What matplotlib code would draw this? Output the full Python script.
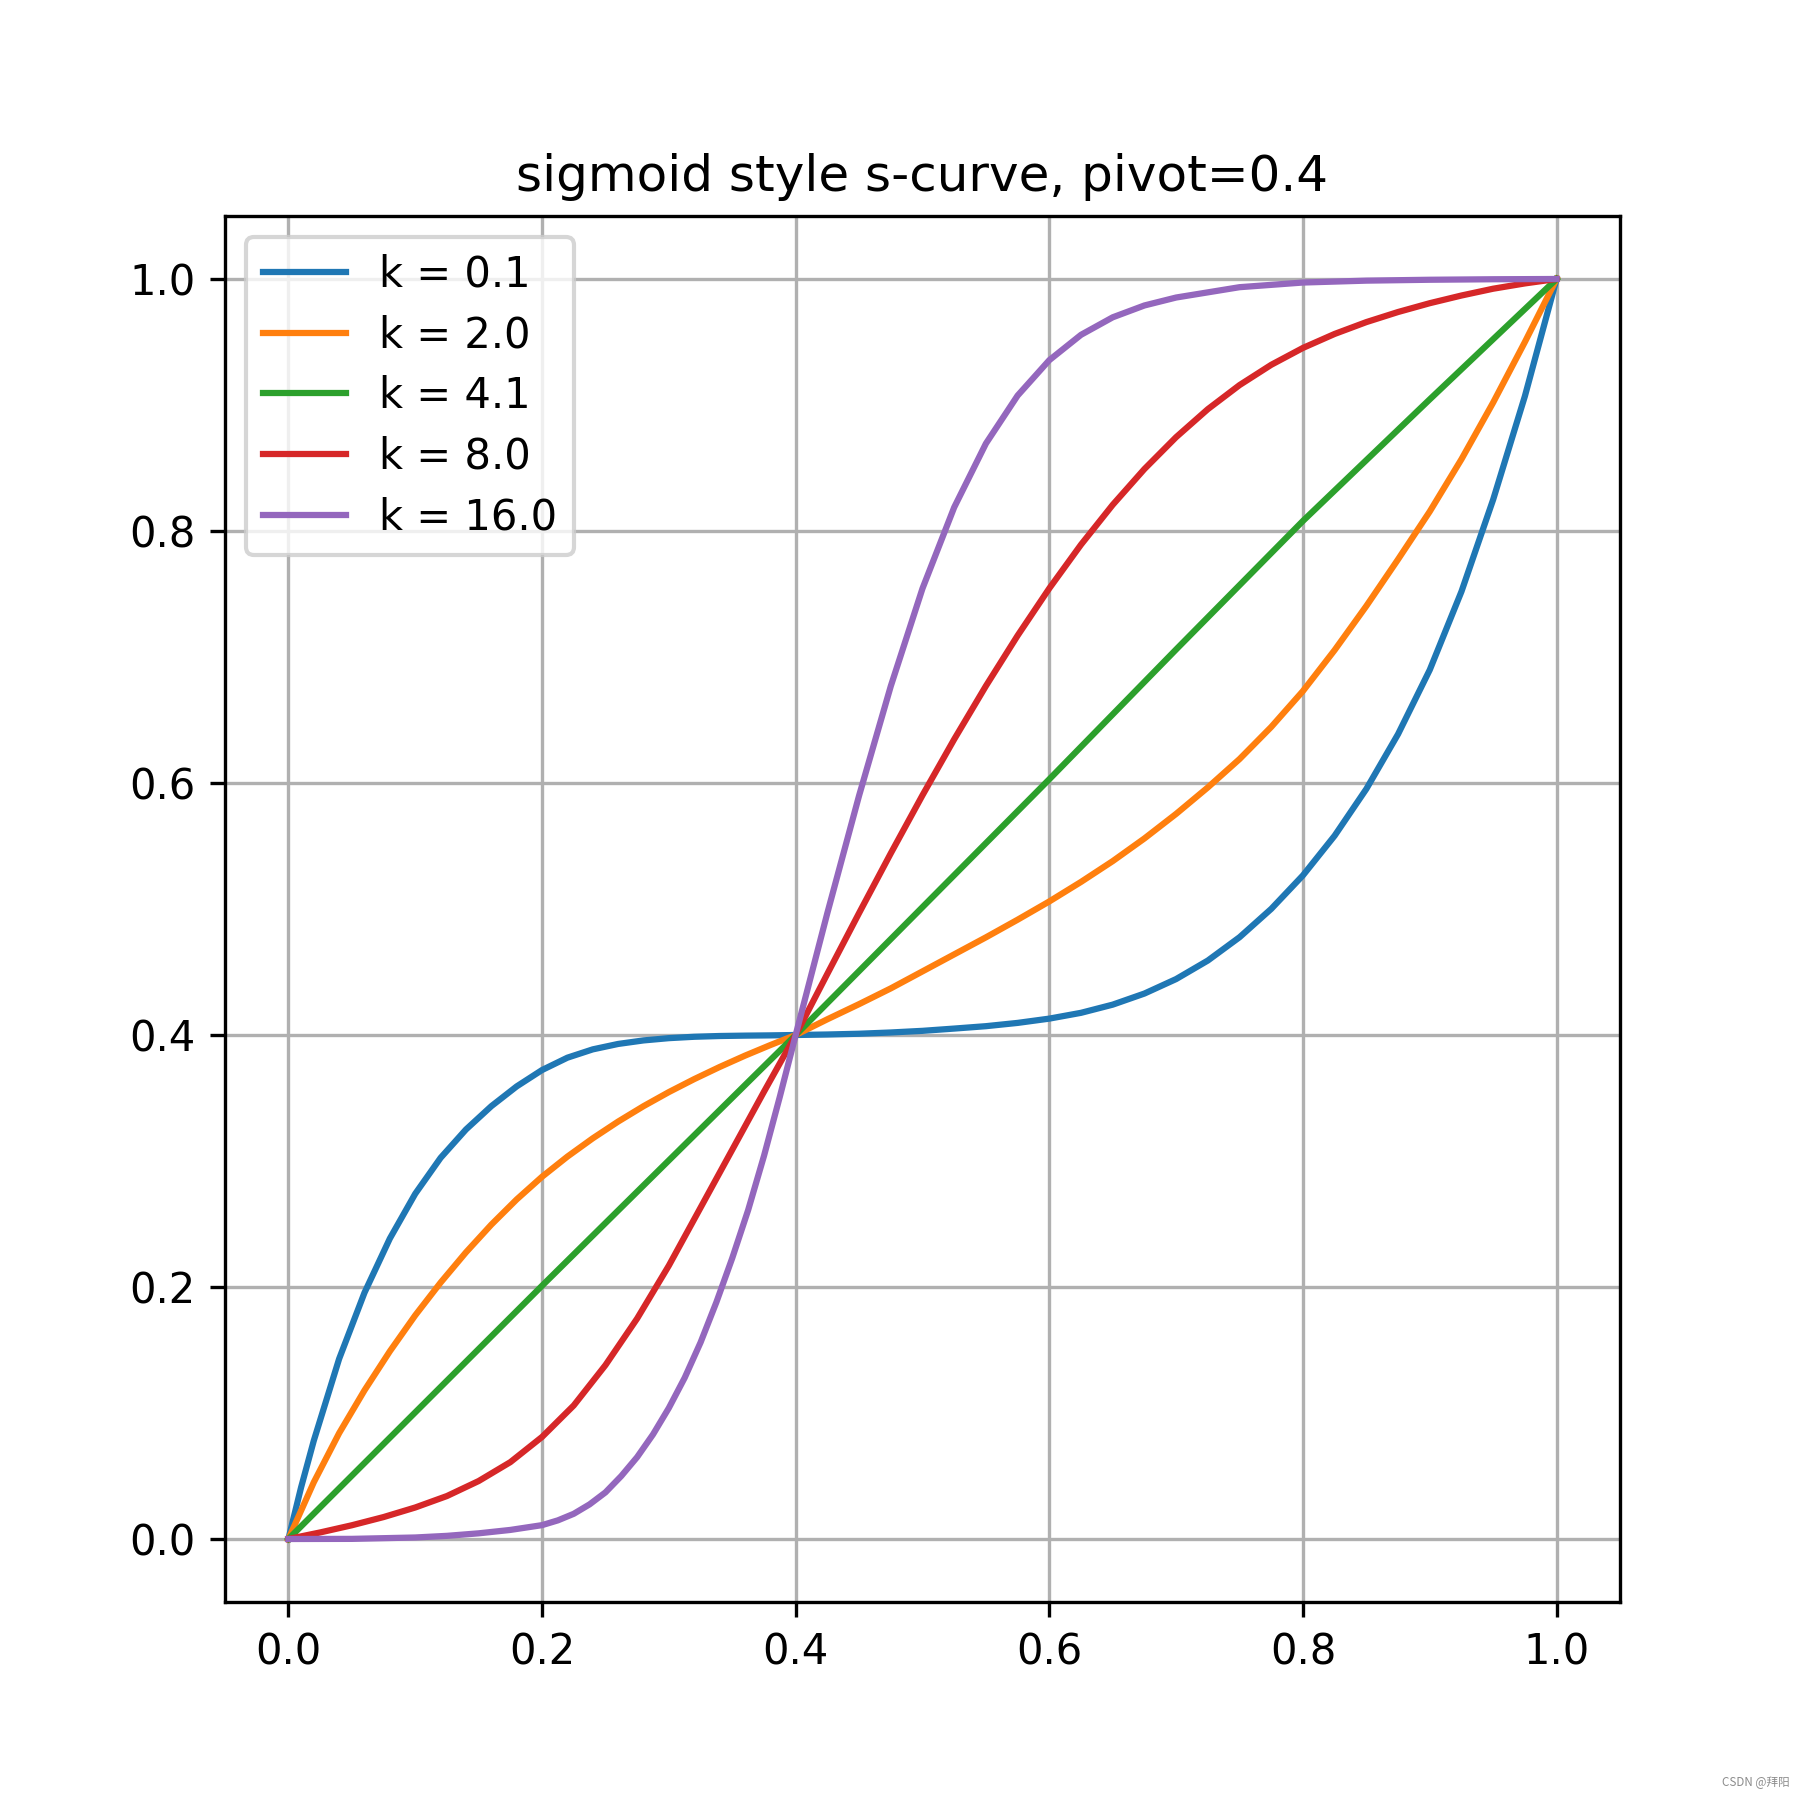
import matplotlib
matplotlib.use("Agg")
import matplotlib.pyplot as plt

# values
pivot = 0.4

x_k01 = [0, 0.01, 0.02, 0.04, 0.06, 0.08, 0.10, 0.12, 0.14, 0.16, 0.18, 0.20, 0.22, 0.24, 0.26, 0.28,
         0.30, 0.32, 0.34, 0.36, 0.38, 0.40, 0.425, 0.45, 0.475, 0.50, 0.525, 0.55, 0.575, 0.60,
         0.625, 0.65, 0.675, 0.70, 0.725, 0.75, 0.775, 0.80, 0.825, 0.85, 0.875, 0.90, 0.925,
         0.95, 0.975, 1.0]
y_k01 = [0, 0.041, 0.078, 0.143, 0.1955, 0.2385, 0.274, 0.3025, 0.325, 0.3435, 0.3592, 0.3722, 0.382,
         0.3886, 0.3929, 0.3957, 0.3975, 0.3986, 0.3992, 0.3995, 0.3997, 0.4, 0.4004, 0.401, 0.402,
         0.4033, 0.4051, 0.407, 0.4096, 0.413, 0.4176, 0.4241, 0.4329, 0.4444, 0.4591, 0.4776, 0.5001,
         0.5267, 0.5582, 0.5953, 0.6388, 0.6898, 0.752, 0.825, 0.907, 1.0]

x_k2 = [0, 0.02, 0.04, 0.06, 0.08, 0.10, 0.12, 0.14, 0.16, 0.18, 0.20, 0.22, 0.24, 0.26, 0.28, 0.30,
        0.32, 0.34, 0.36, 0.38, 0.40, 0.425, 0.45, 0.475, 0.50, 0.525, 0.55, 0.575, 0.60, 0.625,
        0.65, 0.675, 0.70, 0.725, 0.75, 0.775, 0.80, 0.825, 0.85, 0.875, 0.90, 0.925, 0.95, 0.975, 1.0]
y_k2 = [0, 0.045, 0.084, 0.118, 0.149, 0.1775, 0.2035, 0.2275, 0.2495, 0.2695, 0.2875, 0.3035, 0.318,
        0.3313, 0.3435, 0.3547, 0.365, 0.3746, 0.3836, 0.392, 0.4, 0.4125, 0.4245, 0.437, 0.4505,
        0.464, 0.4775, 0.4915, 0.506, 0.5215, 0.538, 0.556, 0.5755, 0.5965, 0.619, 0.6445, 0.673,
        0.7055, 0.7405, 0.7775, 0.8155, 0.857, 0.902, 0.950, 1.0]

x_k41 = [0, 0.1, 0.2, 0.3, 0.4, 0.5, 0.6, 0.7, 0.8, 0.9, 1.0]
y_k41 = [0, 0.1005, 0.201, 0.3005, 0.4, 0.5015, 0.603, 0.706, 0.808, 0.9045, 1.0]

x_k8 = [0, 0.025, 0.05, 0.075, 0.10, 0.125, 0.15, 0.175, 0.20, 0.225, 0.25, 0.275, 0.30, 0.325, 0.35,
        0.375, 0.40, 0.425, 0.45, 0.475, 0.50, 0.525, 0.55, 0.575, 0.60, 0.625, 0.65, 0.675, 0.70,
        0.725, 0.75, 0.775, 0.80, 0.825, 0.85, 0.875, 0.90, 0.925, 0.95, 0.975, 1.0]
y_k8 = [0, 0.0052, 0.0109, 0.0174, 0.025, 0.0341, 0.046, 0.061, 0.081, 0.106, 0.138, 0.175, 0.217,
        0.263, 0.309, 0.355, 0.4, 0.4486, 0.4968, 0.5442, 0.5903, 0.6347, 0.677, 0.717, 0.7545, 0.7892,
        0.8208, 0.8492, 0.8745, 0.8967, 0.9158, 0.9319, 0.9453, 0.9564, 0.9658, 0.9738, 0.9808, 0.9869,
        0.9923, 0.9965, 1.0]

x_k16 = [0, 0.05, 0.10, 0.125, 0.15, 0.175, 0.20, 0.2125, 0.225, 0.2375, 0.25, 0.2625, 0.275, 0.2875,
         0.30, 0.3125, 0.325, 0.3375, 0.35, 0.3625, 0.375, 0.3875, 0.40, 0.425, 0.45, 0.475, 0.50,
         0.525, 0.55, 0.575, 0.60, 0.625, 0.65, 0.675, 0.70, 0.75, 0.80, 0.85, 0.90, 0.95, 1.0]
y_k16 = [0, 0.0001, 0.0012, 0.0025, 0.0045, 0.0072, 0.011, 0.0148, 0.020, 0.0275, 0.037, 0.050, 0.065,
         0.083, 0.104, 0.128, 0.156, 0.188, 0.223, 0.261, 0.304, 0.351, 0.4, 0.4969, 0.59, 0.6769,
         0.7544, 0.8188, 0.8694, 0.9075, 0.9356, 0.9557, 0.9696, 0.979, 0.9853, 0.9935, 0.9972, 0.9987,
         0.9994, 0.9998, 1.0]

k_values = [0.1, 2.0, 4.1, 8.0, 16.0]
curves = [(x_k01, y_k01), (x_k2, y_k2), (x_k41, y_k41), (x_k8, y_k8), (x_k16, y_k16)]

fig = plt.figure(figsize=(6, 6), dpi=300)
for k, (xs, ys) in zip(k_values, curves):
    plt.plot(xs, ys, label="k = %.1f" % k)

plt.title("sigmoid style s-curve, pivot=%.1f" % pivot)
plt.grid(True)
plt.legend(loc="upper left", labelspacing=0.45)

# watermark from the source page
fig.text(0.994, 0.006, "CSDN @拜阳", ha="right", va="bottom", fontsize=2.8,
         color="#8c8c8c", family=["Noto Sans CJK SC", "DejaVu Sans"])

plt.savefig("out.png", dpi=300)
